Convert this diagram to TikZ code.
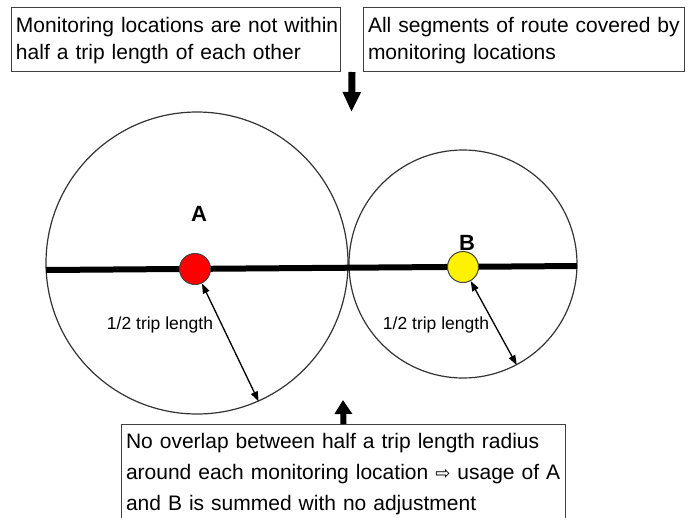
\documentclass[tikz,border=0pt]{standalone}
\usepackage{fontspec}
\setmainfont{Liberation Sans}
\newfontfamily\symfont{DejaVu Sans}
\usetikzlibrary{arrows.meta,calc}
\definecolor{boxgray}{gray}{0.25}
\definecolor{circgray}{gray}{0.2}
\tikzset{
  textbox/.style={draw=boxgray, line width=1pt, anchor=north west, inner xsep=4.5pt, inner ysep=0pt, align=left},
  bigcirc/.style={draw=circgray, line width=1.2pt, circle, inner sep=0pt},
  dot/.style={draw=black!75, line width=1pt, circle, inner sep=0pt, minimum size=31pt},
  route/.style={line width=6pt, black},
  blockarrow/.style={line width=7pt, -{Triangle[width=17pt,length=20pt]}},
  blockarrowup/.style={line width=6pt, -{Triangle[width=17pt,length=14pt]}},
  radarrow/.style={line width=1.3pt, {Triangle[length=10pt,width=7pt]}-{Triangle[length=10pt,width=7pt]}},
  letter/.style={font=\fontsize{22}{22}\selectfont\bfseries, inner sep=0pt},
  small/.style={font=\fontsize{17.5}{20}\selectfont, inner sep=0pt, anchor=base}
}
\begin{document}
\begin{tikzpicture}[x=1pt,y=-1pt]
\useasboundingbox[fill=white] (0,0) rectangle (688,517);

% top boxes
\node[textbox, text width=320pt, font=\fontsize{21}{27}\selectfont] (b1) at (11,7)
  {\rule{0pt}{25pt}\mbox{Monitoring locations are not within}\\\mbox{half a trip length of each other}\rule[-12pt]{0pt}{12pt}};
\node[textbox, text width=312pt, font=\fontsize{21}{27}\selectfont] (b2) at (363,7)
  {\rule{0pt}{25pt}\mbox{All segments of route covered by}\\\mbox{monitoring locations}\rule[-12pt]{0pt}{12pt}};

% bottom box
\node[textbox, text width=435pt, font=\fontsize{21}{31}\selectfont] (b3) at (121,424)
  {\rule{0pt}{24pt}\mbox{No overlap between half a trip length radius}\\\mbox{around each monitoring location {\symfont\fontsize{18}{18}\selectfont ⇨} usage of A}\\\mbox{and B is summed with no adjustment}\rule[-20pt]{0pt}{20pt}};

% circles
\node[bigcirc, minimum size=302pt] (circA) at (197,263) {};
\node[bigcirc, minimum size=228pt] (circB) at (463,264) {};

% route
\coordinate (rL) at (46,270);
\coordinate (rR) at (577,266);
\draw[route] (rL) -- (rR);

% locations
\node[dot, fill=red] (dotA) at (195,269) {};
\node[dot, fill=yellow] (dotB) at (463,267) {};

\node[letter] (lA) at (199,214) {A};
\node[letter] (lB) at (467,243) {B};

% radius arrows
\draw[radarrow] (dotA) -- (circA.-66.5);
\draw[radarrow] (dotB) -- (circB.-62);
\node[small] (tA) at (160,329) {1/2 trip length};
\node[small] (tB) at (436,329) {1/2 trip length};

% block arrows
\coordinate (dtop) at ($(b1.south east)!0.5!(b2.south west)$);
\coordinate (dtip) at (351.5,112);
\draw[blockarrow] (dtop) -- (dtip);
\coordinate (utip) at (343,400);
\draw[blockarrowup] (b3.north) -- (utip);
\end{tikzpicture}
\end{document}
